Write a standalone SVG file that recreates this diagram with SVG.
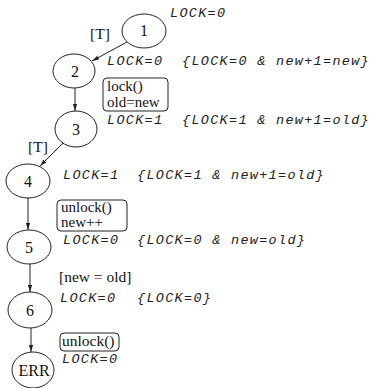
<svg xmlns="http://www.w3.org/2000/svg" width="377" height="388" viewBox="0 0 377 388">
  <style>
    .node ellipse { fill: #fff; stroke: #222; stroke-width: 1; }
    .num { font-family: "Liberation Serif", "Times New Roman", serif; font-size: 16px; fill: #111; text-anchor: middle; }
    .lbl { font-family: "Liberation Serif", "Times New Roman", serif; font-size: 15.5px; fill: #111; }
    .act { font-family: "Liberation Serif", "Times New Roman", serif; font-size: 15px; fill: #111; }
    .st { font-family: "Liberation Mono", "Courier New", monospace; font-style: italic; font-size: 13.5px; letter-spacing: 1.3px; fill: #222; }
    .box { fill: #fff; stroke: #222; stroke-width: 1; }
    .edge { stroke: #222; stroke-width: 1; fill: none; marker-end: url(#arr); }
  </style>
  <defs>
    <marker id="arr" viewBox="0 0 10 6" refX="10" refY="3" markerWidth="7" markerHeight="4.5" orient="auto" markerUnits="userSpaceOnUse">
      <path d="M0,0 L10,3 L0,6 z" fill="#222"/>
    </marker>
  </defs>

  <!-- connectors -->
  <g id="edges">
    <line class="edge" x1="127" y1="42" x2="92" y2="61"/>
    <line class="edge" x1="75" y1="88" x2="75" y2="111"/>
    <line class="edge" x1="63" y1="143" x2="40" y2="166"/>
    <line class="edge" x1="28" y1="198" x2="28" y2="230"/>
    <line class="edge" x1="30" y1="264" x2="30" y2="292"/>
    <line class="edge" x1="31" y1="328" x2="31" y2="352"/>
  </g>

  <!-- edge labels -->
  <g id="edge-labels">
    <text class="lbl" x="90" y="39">[T]</text>
    <g id="act-lock">
      <rect class="box" x="103" y="78" width="65" height="33" rx="4"/>
      <text class="act" x="107" y="91">lock()</text>
      <text class="act" x="107" y="107">old=new</text>
    </g>
    <text class="lbl" x="28" y="152">[T]</text>
    <g id="act-unlock-inc">
      <rect class="box" x="57" y="200" width="70" height="31" rx="4"/>
      <text class="act" x="61" y="212">unlock()</text>
      <text class="act" x="61" y="227">new++</text>
    </g>
    <text class="lbl" x="59" y="282">[new = old]</text>
    <g id="act-unlock">
      <rect class="box" x="60" y="333" width="59" height="18" rx="4"/>
      <text class="lbl" x="62" y="346">unlock()</text>
    </g>
  </g>

  <!-- nodes -->
  <g id="n1" class="node">
    <ellipse cx="144" cy="31" rx="22" ry="17"/>
    <text class="num" x="144" y="36">1</text>
    <text class="st" x="170" y="17">LOCK=0</text>
  </g>
  <g id="n2" class="node">
    <ellipse cx="74" cy="71" rx="21" ry="17"/>
    <text class="num" x="75" y="77">2</text>
    <text class="st" x="107" y="65">LOCK=0</text>
    <text class="st" x="182" y="65">{LOCK=0 &amp; new+1=new}</text>
  </g>
  <g id="n3" class="node">
    <ellipse cx="76" cy="129" rx="21" ry="18"/>
    <text class="num" x="76" y="135">3</text>
    <text class="st" x="107" y="124">LOCK=1</text>
    <text class="st" x="182" y="124">{LOCK=1 &amp; new+1=old}</text>
  </g>
  <g id="n4" class="node">
    <ellipse cx="28" cy="181" rx="22" ry="17"/>
    <text class="num" x="28" y="187">4</text>
    <text class="st" x="63" y="179">LOCK=1</text>
    <text class="st" x="137" y="179">{LOCK=1 &amp; new+1=old}</text>
  </g>
  <g id="n5" class="node">
    <ellipse cx="29" cy="247" rx="22" ry="17"/>
    <text class="num" x="29" y="253">5</text>
    <text class="st" x="63" y="244">LOCK=0</text>
    <text class="st" x="137" y="244">{LOCK=0 &amp; new=old}</text>
  </g>
  <g id="n6" class="node">
    <ellipse cx="30" cy="310" rx="22" ry="18"/>
    <text class="num" x="30" y="316">6</text>
    <text class="st" x="60" y="302">LOCK=0</text>
    <text class="st" x="137" y="302">{LOCK=0}</text>
  </g>
  <g id="nERR" class="node">
    <ellipse cx="33" cy="370" rx="21" ry="18"/>
    <text class="num" x="34" y="376">ERR</text>
    <text class="st" x="62" y="363">LOCK=0</text>
  </g>
</svg>
